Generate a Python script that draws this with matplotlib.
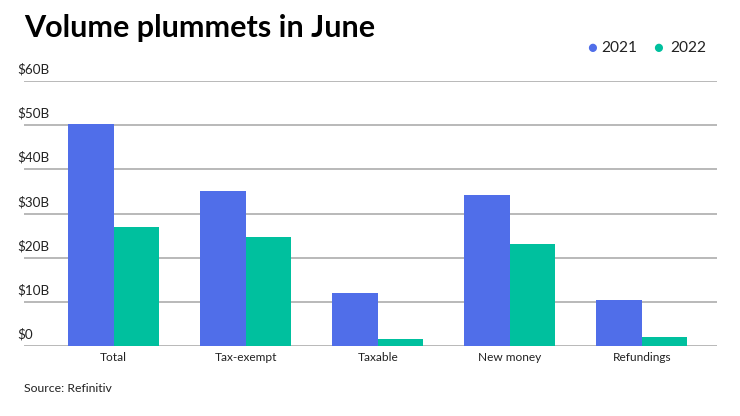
import matplotlib
matplotlib.use("Agg")
import matplotlib.pyplot as plt
import matplotlib.transforms as mtransforms
import numpy as np

plt.rcParams["font.family"] = ["Lato", "DejaVu Sans"]

categories = ["Total", "Tax-exempt", "Taxable", "New money", "Refundings"]
vol_2021 = [50.3, 35.1, 12.0, 34.3, 10.4]
vol_2022 = [26.9, 24.8, 1.6, 23.1, 2.0]
y_ticks = [0, 10, 20, 30, 40, 50, 60]
y_labels = ["$0", "$10B", "$20B", "$30B", "$40B", "$50B", "$60B"]

blue = "#506EE9"
teal = "#00C09E"
grid = "#a6a6a6"

fig = plt.figure(figsize=(7.4, 4.16), dpi=100)
ax = fig.add_axes([0.0324, 0.168, 0.9365, 0.637])

x = np.arange(len(categories))
w = 0.345
ax.bar(x - w / 2, vol_2021, w, color=blue, zorder=3, label="2021")
ax.bar(x + w / 2, vol_2022, w, color=teal, zorder=3, label="2022")

ax.set_xlim(-0.68, 4.57)
ax.set_ylim(0, 60)
for t in y_ticks:
    ax.axhline(t, color=grid, lw=1.1, zorder=1)

trans = mtransforms.blended_transform_factory(ax.transAxes, ax.transData)
offset = mtransforms.offset_copy(trans, fig=fig, y=4, units="points")
for t, lab in zip(y_ticks, y_labels):
    ax.text(-0.009, t, lab, transform=offset, ha="left", va="bottom",
            fontsize=9.7, color="#222222")

ax.set_yticks([])
ax.set_xticks(x)
ax.set_xticklabels(categories, fontsize=8.6, color="#222222")
ax.tick_params(axis="x", length=0, pad=4)
for s in ax.spines.values():
    s.set_visible(False)

fig.text(0.032, 0.911, "Volume plummets in June", fontsize=22, fontweight="bold",
         ha="left", va="baseline", color="#000000")

# legend
fig.text(0.800, 0.884, "\u25cf", color=blue, fontsize=12, ha="center", va="center")
fig.text(0.813, 0.884, "2021", color="#222222", fontsize=11.2, ha="left", va="center")
fig.text(0.889, 0.884, "\u25cf", color=teal, fontsize=12, ha="center", va="center")
fig.text(0.906, 0.884, "2022", color="#222222", fontsize=11.2, ha="left", va="center")

fig.text(0.0324, 0.065, "Source: Refinitiv", fontsize=8.8, ha="left", va="center",
         color="#222222")

fig.savefig("out.png", dpi=100, facecolor="white")
